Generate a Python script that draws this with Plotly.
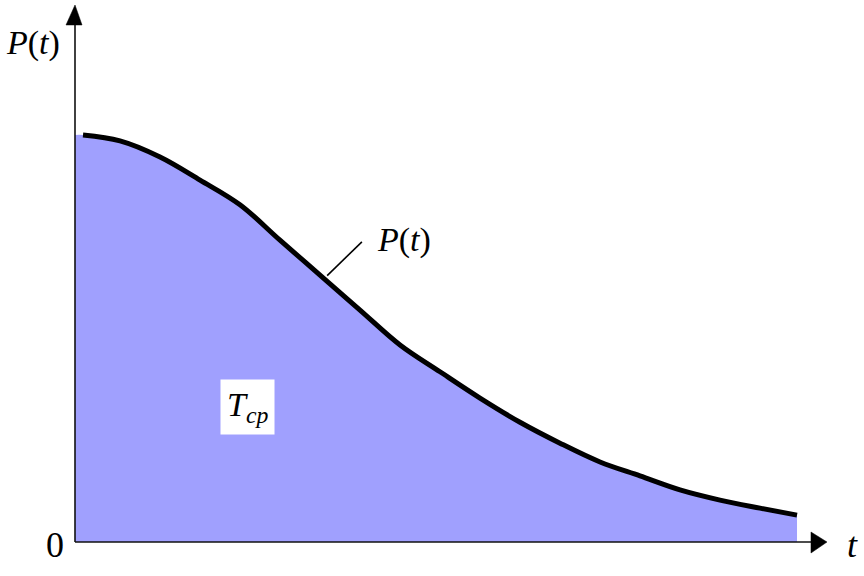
import plotly.graph_objects as go

# Data (t in arbitrary units, P normalised)
t_vals = [0.106, 0.596, 1.126, 1.656, 2.185, 2.715, 3.245, 3.775, 4.305, 4.834,
          5.364, 5.894, 6.424, 6.954, 7.483, 8.013, 8.543, 9.073, 9.563]
p_vals = [0.758, 0.747, 0.717, 0.674, 0.628, 0.562, 0.497, 0.432, 0.367, 0.317,
          0.268, 0.223, 0.184, 0.149, 0.123, 0.097, 0.078, 0.063, 0.050]
fill_t = [0.0] + t_vals
fill_p = [p_vals[0]] + p_vals

X_RANGE = [-0.99338, 10.4503]
Y_RANGE = [-0.063315, 1.009311]
FONT = "Liberation Serif"

fig = go.Figure()
fig.add_trace(go.Scatter(x=fill_t, y=fill_p, mode="lines", fill="tozeroy",
                         fillcolor="#a0a0fe", line=dict(width=0, color="#a0a0fe", shape="spline", smoothing=1.0),
                         hoverinfo="skip", showlegend=False))
fig.add_trace(go.Scatter(x=t_vals, y=p_vals, mode="lines",
                         line=dict(color="black", width=5, shape="spline", smoothing=1.0),
                         hoverinfo="skip", showlegend=False))

# axes lines
axis_col = "#111111"
fig.add_shape(type="line", xref="x", yref="y", x0=0, y0=0, x1=0, y1=0.965,
              line=dict(color=axis_col, width=1.6))
fig.add_shape(type="line", xref="x", yref="y", x0=0, y0=0, x1=9.75, y1=0,
              line=dict(color=axis_col, width=1.6))
# arrow heads
fig.add_shape(type="path", xref="x", yref="y",
              path="M -0.119,0.9628 L 0.093,0.9628 L 0,1.0 Z",
              fillcolor="black", line=dict(color="black", width=0.5))
fig.add_shape(type="path", xref="x", yref="y",
              path="M 9.748,0.0186 L 9.748,-0.0205 L 9.96,0 Z",
              fillcolor="black", line=dict(color="black", width=0.5))
# leader line
fig.add_shape(type="line", xref="x", yref="y", x0=3.34, y0=0.496, x1=3.80, y1=0.559,
              line=dict(color="black", width=1.6))

fig.add_annotation(x=-0.556, y=0.93, xref="x", yref="y", showarrow=False,
                   text="<i>P</i>(<i>t</i>)", font=dict(family=FONT, size=34, color="black"))
fig.add_annotation(x=4.36, y=0.562, xref="x", yref="y", showarrow=False,
                   text="<i>P</i>(<i>t</i>)", font=dict(family=FONT, size=34, color="black"))
fig.add_annotation(x=-0.26, y=-0.005, xref="x", yref="y", showarrow=False,
                   text="0", font=dict(family=FONT, size=36, color="black"))
fig.add_annotation(x=10.3, y=-0.005, xref="x", yref="y", showarrow=False,
                   text="<i>t</i>", font=dict(family=FONT, size=36, color="black"))
fig.add_annotation(x=2.29, y=0.252, xref="x", yref="y", showarrow=False,
                   text="<i>T</i><sub><i>ср</i></sub>", font=dict(family=FONT, size=34, color="black"),
                   bgcolor="white", borderpad=6)

fig.update_layout(
    width=864, height=576,
    margin=dict(l=0, r=0, t=0, b=0, pad=0),
    paper_bgcolor="white", plot_bgcolor="white",
    xaxis=dict(range=X_RANGE, visible=False, fixedrange=True),
    yaxis=dict(range=Y_RANGE, visible=False, fixedrange=True),
    showlegend=False,
)

fig.write_html("out.html", config={"displayModeBar": False},
               post_script="document.body.style.margin='0';")
